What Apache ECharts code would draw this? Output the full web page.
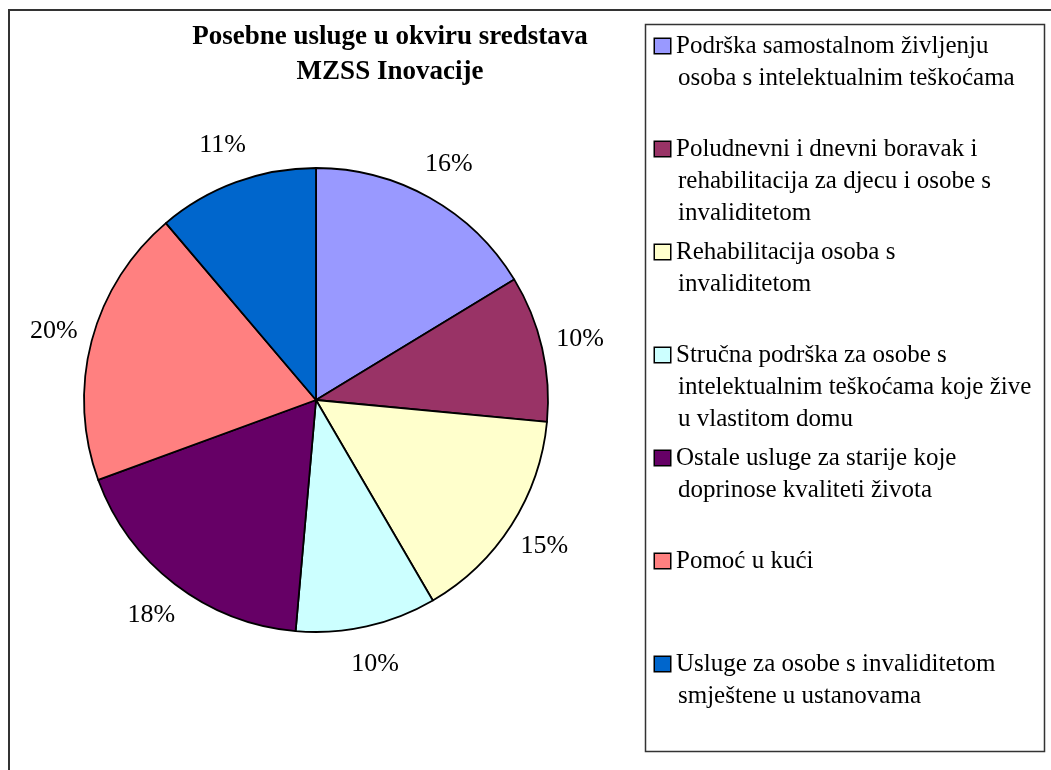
<!DOCTYPE html>
<html>
<head>
<meta charset="utf-8">
<script src="https://cdn.jsdelivr.net/npm/echarts@6/dist/echarts.min.js"></script>
<style>
  html, body { margin: 0; padding: 0; background: #fff; }
  #chart { width: 1051px; height: 770px; }
</style>
</head>
<body>
<div id="chart"></div>
<script>
// data (share of funds, %)
const categories = [
  'Podrška samostalnom življenju\nosoba s intelektualnim teškoćama',
  'Poludnevni i dnevni boravak i\nrehabilitacija za djecu i osobe s\ninvaliditetom',
  'Rehabilitacija osoba s\ninvaliditetom',
  'Stručna podrška za osobe s\nintelektualnim teškoćama koje žive\nu vlastitom domu',
  'Ostale usluge za starije koje\ndoprinose kvaliteti života',
  'Pomoć u kući',
  'Usluge za osobe s invaliditetom\nsmještene u ustanovama'
];
const values = [16.3, 10.2, 15.1, 9.8, 18.0, 19.4, 11.2];
const colors = ['#9999FF', '#993366', '#FFFFCC', '#CCFFFF', '#660066', '#FF8080', '#0066CC'];
const titleText = 'Posebne usluge u okviru sredstava\nMZSS Inovacije';

const FONT = '"Liberation Serif", "Times New Roman", serif';
const pieData = categories.map((c, i) => ({ name: c, value: values[i], itemStyle: { color: colors[i] } }));

// legend rich styles: coloured square on first line, indent on the rest
const rich = {
  t: { fontSize: 25, fontFamily: FONT, color: '#000', lineHeight: 32 },
  g: { width: 6, lineHeight: 32 },
  ind: { width: 23, lineHeight: 32 }
};
colors.forEach((c, i) => {
  rich['m' + i] = { width: 15, height: 14, backgroundColor: c, borderColor: '#000', borderWidth: 1.5, lineHeight: 32 };
});

const chart = echarts.init(document.getElementById('chart'));
chart.setOption({
  backgroundColor: '#fff',
  animation: false,
  title: {
    text: titleText,
    left: 390,
    top: 20,
    padding: 0,
    textAlign: 'center',
    textStyle: { fontFamily: FONT, fontSize: 27, fontWeight: 'bold', color: '#000', lineHeight: 35 }
  },
  graphic: [
    { type: 'rect', shape: { x: 9, y: 10, width: 1200, height: 900 }, style: { fill: 'none', stroke: '#333', lineWidth: 2 }, silent: true },
    { type: 'rect', shape: { x: 645.5, y: 24.5, width: 399, height: 727 }, style: { fill: 'none', stroke: '#333', lineWidth: 1.5 }, silent: true }
  ],
  legend: {
    orient: 'vertical',
    left: 650,
    top: 30,
    padding: 0,
    icon: 'none',
    itemWidth: 0,
    itemHeight: 0,
    itemGap: 7,
    data: categories,
    textStyle: { fontFamily: FONT, fontSize: 25, lineHeight: 32, color: '#000', rich: rich },
    formatter: name => {
      const i = categories.indexOf(name);
      const lines = name.split('\n');
      let s = '{m' + i + '|}{g|}{t|' + lines[0] + '}';
      for (let k = 1; k < 3; k++) {
        s += '\n{ind|}' + (lines[k] ? '{t|' + lines[k] + '}' : '{t| }');
      }
      return s;
    }
  },
  series: [
    {
      type: 'pie',
      center: [316, 400],
      radius: 232,
      startAngle: 90,
      clockwise: true,
      avoidLabelOverlap: false,
      label: { show: false },
      labelLine: { show: false },
      itemStyle: { borderColor: '#000', borderWidth: 1.8 },
      emphasis: { disabled: true },
      data: pieData
    },
    {
      // transparent ring that only carries the percentage labels
      type: 'pie',
      center: [316, 400],
      radius: [232, 304],
      startAngle: 90,
      clockwise: true,
      silent: true,
      percentPrecision: 0,
      avoidLabelOverlap: false,
      itemStyle: { color: 'rgba(0,0,0,0)', borderWidth: 0 },
      label: { show: true, position: 'inside', formatter: '{d}%', fontFamily: FONT, fontSize: 26, color: '#000' },
      labelLine: { show: false },
      emphasis: { disabled: true },
      data: categories.map((c, i) => ({ name: c, value: values[i] }))
    }
  ]
});
window.addEventListener('resize', () => chart.resize());
</script>
</body>
</html>
